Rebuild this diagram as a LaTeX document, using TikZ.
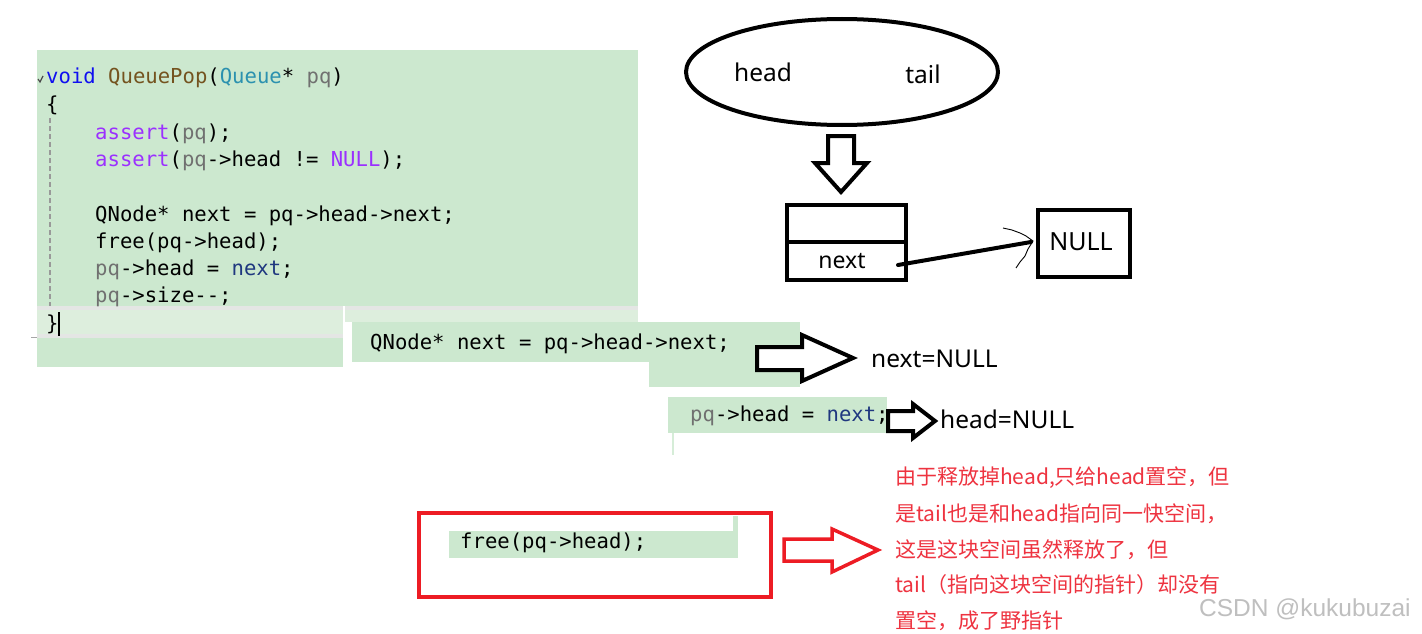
\documentclass[tikz,border=0pt]{standalone}
\usepackage{fontspec}
\setmainfont{Noto Sans}
\newfontfamily\codefont{DejaVu Sans Mono}
\newfontfamily\cjk{Noto Sans CJK SC}
\newfontfamily\wmfont{Liberation Sans}
\usetikzlibrary{shapes.geometric}
\definecolor{codegreen}{HTML}{CCE8CF}
\definecolor{bandgreen}{HTML}{DDEEDD}
\definecolor{bandline}{HTML}{E4E6E4}
\definecolor{kw}{HTML}{1010F0}
\definecolor{fn}{HTML}{74531F}
\definecolor{ty}{HTML}{2B91AF}
\definecolor{pm}{HTML}{707070}
\definecolor{mc}{HTML}{9B30FF}
\definecolor{lv}{HTML}{1F377F}
\definecolor{redline}{HTML}{ED1C24}
\definecolor{redtxt}{HTML}{EE3340}
\begin{document}
\begin{tikzpicture}[x=1pt,y=-1pt,
  code/.style={font=\codefont\fontsize{20.6}{24}\selectfont, anchor=base west, inner sep=0pt},
  lbl/.style={font=\fontsize{24.5}{28}\selectfont, inner sep=0pt},
  note/.style={font=\cjk\fontsize{21}{26}\selectfont, text=redtxt, anchor=base west, inner sep=0pt},
  blockarrow/.style={draw=black, line width=4pt, fill=white, line join=miter},
  redarrow/.style={draw=redline, line width=3.5pt, fill=white, line join=miter},
  thickbox/.style={draw=black, line width=4pt, rectangle, inner sep=0pt}]
\useasboundingbox (0,0) rectangle (1422,634);
\fill[white] (0,0) rectangle (1422,634);

% ---- main code block background ----
\fill[codegreen] (37,50) rectangle (638,306);
\fill[bandgreen] (37,306) rectangle (343,338);
\fill[bandline] (37,306) rectangle (343,310);
\fill[bandline] (37,334) rectangle (343,338);
\fill[bandgreen] (345,306) rectangle (638,322);
\fill[bandline] (345,306) rectangle (638,310);
\fill[codegreen] (37,338) rectangle (343,367);
\draw[gray!70, line width=1pt] (31,337) -- (37,337);

% indent guide, collapse mark, cursor
\draw[gray!80, line width=1.2pt, dash pattern=on 5pt off 3pt] (50,118) -- (50,306);
\draw[black!70, line width=1.2pt] (38,79) -- (40,82) -- (43,76);
\draw[black, line width=1.5pt] (59,312) -- (59,336);

% ---- main code ----
\node[code] (c1) at (46,84) {\textcolor{kw}{void} \textcolor{fn}{QueuePop}(\textcolor{ty}{Queue}* \textcolor{pm}{pq})};
\node[code] (c2) at (46,111) {\{};
\node[code] (c3) at (95,139) {\textcolor{mc}{assert}(\textcolor{pm}{pq});};
\node[code] (c4) at (95,166) {\textcolor{mc}{assert}(\textcolor{pm}{pq}->head != \textcolor{mc}{NULL});};
\node[code] (c5) at (95,221) {QNode* next = pq->head->next;};
\node[code] (c6) at (95,248) {free(pq->head);};
\node[code] (c7) at (95,275) {\textcolor{pm}{pq}->head = \textcolor{lv}{next};};
\node[code] (c8) at (95,302) {\textcolor{pm}{pq}->size-\kern0pt-;};
\node[code] (c9) at (46,330) {\}};

% ---- snippet 1 ----
\fill[codegreen] (352,322) rectangle (800,362);
\fill[codegreen] (649,362) rectangle (800,387);
\node[code] (s1) at (370,349) {QNode* next = pq->head->next;};

% ---- snippet 2 ----
\fill[codegreen] (668,397) rectangle (887,433);
\fill[codegreen!80] (672,433) rectangle (674,455);
\node[code] (s2) at (690,421) {\textcolor{pm}{pq}->head = \textcolor{lv}{next};};

% ---- snippet 3 ----
\fill[codegreen] (449,531) rectangle (738,558);
\fill[codegreen] (733,516) rectangle (738,531);
\node[code] (s3) at (460,548) {free(pq->head);};
\draw[redline, line width=4pt] (419,513) rectangle (771,597);

% ---- queue ellipse ----
\node[draw=black, line width=4pt, ellipse, minimum width=312pt, minimum height=106pt] (queue) at (842,72) {};
\node[lbl] (qhead) at (763,72) {head};
\node[lbl] (qtail) at (923,74) {tail};

% down arrow
\draw[blockarrow] (828,136) -- (854,136) -- (854,163) -- (867,163) -- (841,192) -- (815,163) -- (828,163) -- cycle;

% ---- list node ----
\node[thickbox, minimum width=119pt, minimum height=75pt] (nodebox) at (846.5,242.5) {};
\draw[black, line width=4pt] (785,242) -- (906,242);
\node[font=\fontsize{23}{27}\selectfont, inner sep=0pt] (nextlbl) at (842,261) {next};
\node[thickbox, minimum width=92pt, minimum height=67pt] (nullbox) at (1084,243.5) {};
\node[font=\fontsize{25}{29}\selectfont, inner sep=0pt] (nulllbl) at (1081,242) {NULL};
\coordinate (ptrstart) at (898,265);
\coordinate (ptrend) at (1031,242);
\draw[black, line width=4pt, line cap=round] (ptrstart) -- (ptrend);
\draw[black, line width=0.9pt] (1003,228) -- (1012,230) -- (1020,233) -- (1026,236) -- (1033,241)
  -- (1028,249) -- (1025,256) -- (1020,262) -- (1016,268);

% ---- arrows to results ----
\draw[blockarrow] (757,347) -- (802,347) -- (802,335) -- (853,358) -- (802,381) -- (802,370) -- (757,370) -- cycle;
\node[lbl, anchor=west] (nextnull) at (871,359) {next=NULL};
\draw[blockarrow] (888,411) -- (913,411) -- (913,404) -- (935,421) -- (913,438) -- (913,431) -- (888,431) -- cycle;
\node[lbl, anchor=west] (headnull) at (940,419) {head=NULL};

% red arrow
\draw[redarrow] (784,539) -- (832,539) -- (832,529) -- (878,550) -- (832,572) -- (832,561) -- (784,561) -- cycle;

% ---- red note ----
\node[note] (n1) at (895,484) {由于释放掉head,只给head置空，但};
\node[note] (n2) at (895,521) {是tail也是和head指向同一快空间，};
\node[note] (n3) at (895,557) {这是这块空间虽然释放了，但};
\node[note] (n4) at (895,592) {tail（指向这块空间的指针）却没有};
\node[note] (n5) at (895,628) {置空，成了野指针};

% watermark
\node[font=\wmfont\fontsize{24.5}{28}\selectfont, text=black!25, anchor=base west, inner sep=0pt] (wm) at (1199,616) {CSDN @kukubuzai};
\end{tikzpicture}
\end{document}
